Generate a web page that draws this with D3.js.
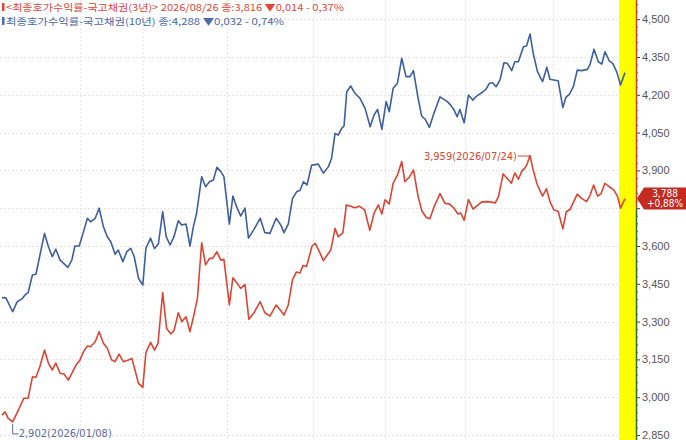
<!DOCTYPE html>
<html>
<head>
<meta charset="utf-8">
<script src="https://cdn.jsdelivr.net/npm/d3@7"></script>
<style>
	body { margin: 0; background: #fff; }
	#chart-area { width: 686px; height: 440px; }
</style>
</head>
<body>
<div id="chart-area"></div>
<script>
// values (yield %, x = trading session)
var sessions3y = [0, 0.8, 1.6, 2.74, 3.8, 4.8, 5.6, 6.7, 7.8, 8.7, 9.7, 10.9, 11.9, 12.9, 13.8, 14.9, 15.9, 17.0, 17.9, 19.0,
	20.0, 20.9, 21.9, 22.7, 23.9, 24.9, 26.0, 27.0, 28.1, 29.0, 30.0, 31.1, 32.4, 33.3, 34.1, 35.0, 36.1, 36.9, 38.1, 39.1,
	40.0, 41.2, 42.2, 43.3, 44.1, 45.2, 46.1, 47.2, 48.2, 49.2, 50.1, 51.2, 52.2, 53.2, 54.0, 55.1, 56.1, 56.9, 58.3, 59.2,
	60.2, 61.2, 62.3, 63.3, 64.6, 66.2, 67.4, 68.7, 70.3, 71.5, 72.3, 73.4, 74.5, 75.5, 76.4, 77.2, 78.1, 79.5, 80.3, 81.4,
	82.4, 83.4, 84.3, 85.4, 86.2, 87.4, 88.3, 89.4, 90.5, 91.6, 93.0, 94.3, 95.4, 96.5, 97.4, 98.2, 99.3, 100.3, 101.4, 102.5,
	103.3, 104.5, 105.5, 106.7, 107.7, 108.8, 109.7, 110.8, 112.3, 113.6, 114.7, 115.9, 116.9, 117.6, 118.5, 119.6, 120.8, 121.9, 123.0, 124.4,
	125.4, 126.5, 127.3, 128.5, 129.6, 130.6, 131.5, 132.4, 133.3, 134.2, 134.7, 135.38, 136.2, 137.2, 138.6, 139.6, 140.5, 141.5, 142.6, 143.8,
	144.7, 145.7, 147.5, 148.6, 149.9, 150.8, 151.7, 152.7, 153.6, 154.6, 155.7, 156.9, 157.8, 158.6, 159.74];
var yields3y = [2.929, 2.942, 2.916, 2.902, 2.936, 2.969, 2.996, 2.996, 3.081, 3.079, 3.121, 3.187, 3.135, 3.108, 3.135, 3.095, 3.092, 3.068, 3.095, 3.128,
	3.148, 3.181, 3.203, 3.200, 3.220, 3.260, 3.214, 3.194, 3.148, 3.141, 3.171, 3.141, 3.148, 3.154, 3.108, 3.055, 3.039, 3.177, 3.218, 3.187,
	3.214, 3.415, 3.273, 3.251, 3.264, 3.335, 3.300, 3.319, 3.260, 3.326, 3.392, 3.613, 3.525, 3.551, 3.551, 3.577, 3.544, 3.547, 3.366, 3.474,
	3.454, 3.432, 3.448, 3.309, 3.335, 3.379, 3.335, 3.322, 3.366, 3.343, 3.326, 3.366, 3.467, 3.497, 3.493, 3.523, 3.519, 3.600, 3.611, 3.577,
	3.542, 3.564, 3.584, 3.670, 3.637, 3.652, 3.763, 3.758, 3.752, 3.758, 3.743, 3.662, 3.730, 3.763, 3.727, 3.783, 3.767, 3.849, 3.882, 3.935,
	3.855, 3.875, 3.902, 3.796, 3.738, 3.713, 3.708, 3.756, 3.808, 3.769, 3.767, 3.750, 3.727, 3.731, 3.702, 3.784, 3.746, 3.761, 3.775, 3.776,
	3.774, 3.771, 3.796, 3.886, 3.867, 3.849, 3.890, 3.865, 3.897, 3.912, 3.928, 3.959, 3.902, 3.845, 3.798, 3.827, 3.776, 3.743, 3.738, 3.668,
	3.736, 3.746, 3.806, 3.789, 3.776, 3.802, 3.842, 3.798, 3.808, 3.849, 3.835, 3.822, 3.798, 3.750, 3.788];

var sessions10y = [0, 1.0, 2.74, 3.9, 5.1, 5.9, 6.7, 7.8, 8.7, 10.9, 11.9, 12.9, 13.8, 14.9, 16.9, 17.9, 18.7, 19.8, 20.9, 21.9,
	22.7, 23.9, 24.9, 26.0, 27.0, 27.9, 29.0, 29.8, 31.0, 32.0, 33.0, 33.9, 35.0, 36.1, 36.9, 38.1, 39.1, 40.1, 41.2, 42.1,
	43.1, 44.1, 45.2, 46.1, 47.2, 48.2, 49.1, 49.9, 51.2, 52.2, 53.2, 54.2, 55.1, 56.1, 56.9, 58.3, 59.2, 60.2, 61.2, 62.3,
	63.2, 64.6, 66.2, 67.4, 68.7, 70.3, 71.5, 72.3, 73.4, 74.5, 75.6, 76.4, 77.3, 78.2, 79.4, 81.1, 82.4, 83.7, 84.5, 85.4,
	86.2, 87.1, 87.7, 88.4, 89.4, 90.5, 91.8, 93.1, 94.4, 95.4, 96.3, 97.4, 98.5, 99.3, 100.3, 101.4, 102.5, 103.6, 104.6, 105.5,
	106.7, 107.6, 108.5, 109.6, 110.6, 112.3, 113.3, 114.2, 115.0, 115.9, 116.7, 117.4, 118.5, 119.6, 120.7, 121.7, 123.0, 124.1, 125.0, 125.8,
	126.7, 127.7, 128.7, 129.6, 130.7, 131.5, 132.4, 133.7, 134.5, 135.4, 136.2, 137.3, 138.6, 139.7, 140.5, 141.5, 142.6, 143.8, 144.6, 145.5,
	146.5, 147.5, 148.6, 150.1, 150.8, 151.8, 152.9, 153.8, 154.6, 155.7, 156.6, 157.6, 158.6, 159.74];
var yields10y = [3.395, 3.394, 3.339, 3.379, 3.390, 3.406, 3.415, 3.485, 3.488, 3.650, 3.597, 3.558, 3.587, 3.544, 3.515, 3.544, 3.600, 3.600, 3.657, 3.710,
	3.696, 3.710, 3.750, 3.677, 3.637, 3.617, 3.567, 3.584, 3.538, 3.577, 3.591, 3.558, 3.472, 3.445, 3.591, 3.631, 3.590, 3.608, 3.736, 3.637,
	3.604, 3.637, 3.700, 3.683, 3.687, 3.600, 3.679, 3.730, 3.875, 3.835, 3.855, 3.862, 3.912, 3.895, 3.875, 3.687, 3.798, 3.754, 3.719, 3.750,
	3.631, 3.666, 3.710, 3.653, 3.650, 3.710, 3.683, 3.653, 3.687, 3.789, 3.816, 3.820, 3.855, 3.842, 3.921, 3.925, 3.889, 3.915, 3.948, 4.047,
	4.040, 4.067, 4.076, 4.212, 4.235, 4.206, 4.186, 4.146, 4.073, 4.120, 4.142, 4.063, 4.173, 4.133, 4.226, 4.246, 4.345, 4.272, 4.272, 4.296,
	4.186, 4.116, 4.103, 4.071, 4.120, 4.192, 4.182, 4.173, 4.160, 4.140, 4.113, 4.142, 4.089, 4.199, 4.179, 4.195, 4.208, 4.222, 4.246, 4.248,
	4.232, 4.259, 4.327, 4.325, 4.296, 4.331, 4.331, 4.391, 4.394, 4.441, 4.365, 4.292, 4.252, 4.309, 4.262, 4.259, 4.256, 4.150, 4.190, 4.203,
	4.232, 4.298, 4.296, 4.301, 4.322, 4.381, 4.331, 4.322, 4.371, 4.335, 4.325, 4.292, 4.239, 4.288];

// month boundaries (vertical grid), in sessions
var monthStarts = [20.0, 36.2, 57.7, 79.7, 98.2, 118.7, 141.3];

var yTicks = [2.85, 3.0, 3.15, 3.3, 3.45, 3.6, 3.75, 3.9, 4.05, 4.2, 4.35, 4.5];

var legendTexts = [
	"<최종호가수익률-국고채권(3년)> 2026/08/26 종:3,816  ▼0,014  - 0,37%",
	"최종호가수익률-국고채권(10년) 종:4,288  ▼0,032  - 0,74%"
];
var maxLabel = "3,959(2026/07/24)";
var minLabel = "2,902(2026/01/08)";
var lastLabel = ["3,788", "+0,88%"];


YieldChart = function(_parentElement){
	this.parentElement = _parentElement;
	this.data3y = d3.zip(sessions3y, yields3y);
	this.data10y = d3.zip(sessions10y, yields10y);
	this.initVis();
};

YieldChart.prototype.initVis = function() {
	var vis = this;

	vis.width = 686;
	vis.height = 440;
	vis.axisX = 636;

	vis.svg = d3.select("#" + vis.parentElement).append("svg")
		.attr("width", vis.width)
		.attr("height", vis.height)
		.style("font-family", "'Liberation Sans Narrow', 'DejaVu Sans Condensed', sans-serif");

	vis.x = d3.scaleLinear().domain([0, 160]).range([2, 626]);
	vis.y = d3.scaleLinear().domain([2.85, 4.5]).range([435, 19.2]);

	var kr = d3.formatLocale({ decimal: ",", thousands: ".", grouping: [3], currency: ["", ""] });
	vis.fmt = kr.format(".3f");

	vis.updateVis();
};

YieldChart.prototype.updateVis = function() {
	var vis = this;
	var x = vis.x, y = vis.y;

	var last3y = vis.data3y[vis.data3y.length - 1];
	var ly = y(last3y[1]);

	// yellow band before the axis
	vis.svg.append("rect")
		.attr("x", 619).attr("y", 0)
		.attr("width", vis.axisX - 619).attr("height", vis.height)
		.attr("fill", "#ffff00");

	// grid
	vis.svg.append("g").selectAll("line.h")
		.data(yTicks)
		.enter().append("line")
		.attr("x1", 0).attr("x2", 619)
		.attr("y1", function(d){ return Math.round(y(d)) + 0.5; })
		.attr("y2", function(d){ return Math.round(y(d)) + 0.5; })
		.attr("stroke", "#e4e4e4")
		.attr("stroke-dasharray", "2,2");

	vis.svg.append("g").selectAll("line.v")
		.data(monthStarts)
		.enter().append("line")
		.attr("x1", function(d){ return Math.round(x(d)) + 0.5; })
		.attr("x2", function(d){ return Math.round(x(d)) + 0.5; })
		.attr("y1", 0).attr("y2", vis.height)
		.attr("stroke", "#e8e8e8")
		.attr("stroke-dasharray", "2,2");

	var line = d3.line()
		.x(function(d){ return x(d[0]); })
		.y(function(d){ return y(d[1]); });

	vis.svg.append("path")
		.datum(vis.data10y)
		.attr("d", line)
		.attr("fill", "none")
		.attr("stroke", "#3d5f9e")
		.attr("stroke-width", 1.6)
		.attr("stroke-linejoin", "round");

	vis.svg.append("path")
		.datum(vis.data3y)
		.attr("d", line)
		.attr("fill", "none")
		.attr("stroke", "#db4533")
		.attr("stroke-width", 1.6)
		.attr("stroke-linejoin", "round");

	// right axis (the label under the value tag is covered in the original)
	var axis = vis.svg.append("g")
		.attr("transform", "translate(" + vis.axisX + ",0)")
		.call(d3.axisRight(y).tickValues(yTicks).tickSize(4).tickPadding(2).tickFormat(vis.fmt));
	axis.select(".domain").remove();
	axis.selectAll("line").attr("stroke", "#444");
	axis.selectAll("text").attr("fill", "#555").attr("font-size", 11).attr("font-family", null);
	axis.selectAll(".tick")
		.filter(function(d){ return Math.abs(y(d) - ly) < 18; })
		.select("text").remove();

	var minor = [];
	yTicks.forEach(function(t){ [0.03, 0.06, 0.09, 0.12].forEach(function(m){ if (t + m < 4.6) minor.push(t + m); }); });
	vis.svg.append("g")
		.attr("transform", "translate(" + vis.axisX + ",0)")
		.call(d3.axisRight(y).tickValues(minor).tickSize(2).tickFormat(""))
		.call(function(g){ g.select(".domain").remove(); g.selectAll("line").attr("stroke", "#666"); });

	vis.svg.append("line")
		.attr("x1", vis.axisX + 0.5).attr("x2", vis.axisX + 0.5)
		.attr("y1", 0).attr("y2", ly + 10)
		.attr("stroke", "#c8402a").attr("stroke-width", 1.5);
	vis.svg.append("line")
		.attr("x1", vis.axisX + 0.5).attr("x2", vis.axisX + 0.5)
		.attr("y1", ly + 10).attr("y2", vis.height)
		.attr("stroke", "#2f6a2a").attr("stroke-width", 1.5);

	// current value tag
	var tx = vis.axisX + 1;
	vis.svg.append("path")
		.attr("d", "M" + tx + "," + ly + "L" + (tx + 7) + "," + (ly - 11) + "H" + vis.width + "V" + (ly + 11) + "H" + (tx + 7) + "Z")
		.attr("fill", "#c42a20");
	vis.svg.append("g").selectAll("text")
		.data(lastLabel)
		.enter().append("text")
		.attr("x", 665)
		.attr("y", function(d, i){ return ly - 2 + i * 10; })
		.attr("text-anchor", "middle")
		.attr("font-size", 10)
		.attr("fill", "#fff")
		.text(function(d){ return d; });

	// max / min annotations
	var hi = vis.data3y[d3.maxIndex(vis.data3y, function(d){ return d[1]; })];
	var lo = vis.data3y[d3.minIndex(vis.data3y, function(d){ return d[1]; })];

	vis.svg.append("line")
		.attr("x1", x(hi[0]) - 12).attr("x2", x(hi[0]))
		.attr("y1", y(hi[1]) + 0.5).attr("y2", y(hi[1]) + 0.5)
		.attr("stroke", "#db4533");
	vis.svg.append("text")
		.attr("x", x(hi[0]) - 13).attr("y", y(hi[1]) + 4)
		.attr("text-anchor", "end")
		.attr("font-size", 11)
		.attr("fill", "#db4533")
		.text(maxLabel);

	vis.svg.append("path")
		.attr("d", "M" + x(lo[0]) + "," + (y(lo[1]) + 2) + "V" + (y(lo[1]) + 12) + "h6")
		.attr("fill", "none")
		.attr("stroke", "#5b6b9e");
	vis.svg.append("text")
		.attr("x", x(lo[0]) + 6).attr("y", y(lo[1]) + 15)
		.attr("font-size", 11)
		.attr("fill", "#5b6b9e")
		.text(minLabel);

	// legend
	var legColors = ["#e0463a", "#4a6aa8"];
	var legWidths = [338, 278];
	legendTexts.forEach(function(t, i){
		vis.svg.append("rect")
			.attr("x", 2).attr("y", 3 + i * 14)
			.attr("width", 2.5).attr("height", 8)
			.attr("fill", legColors[i]);
		vis.svg.append("text")
			.attr("x", 6).attr("y", 10.5 + i * 14)
			.attr("font-size", 9.5)
			.attr("font-family", "'Noto Sans CJK KR', sans-serif")
			.attr("textLength", legWidths[i])
			.attr("lengthAdjust", "spacingAndGlyphs")
			.attr("fill", legColors[i])
			.text(t);
	});
};

new YieldChart("chart-area");
</script>
</body>
</html>
